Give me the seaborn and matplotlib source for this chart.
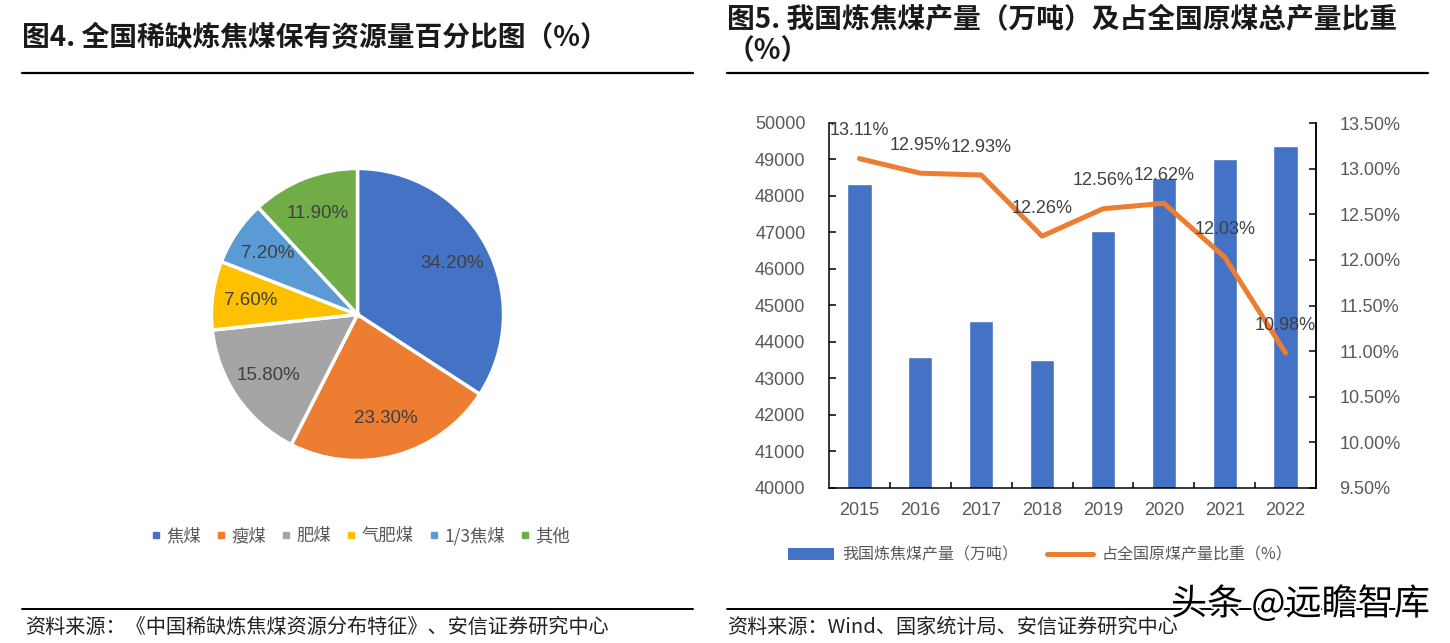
import numpy as np
import pandas as pd
import matplotlib
matplotlib.use("Agg")
import matplotlib.pyplot as plt
import seaborn as sns
from matplotlib.lines import Line2D
from matplotlib.patches import Patch
from matplotlib.ticker import FuncFormatter
import matplotlib.patheffects as pe

# ---------------- data ----------------
coal_types = ["焦煤", "瘦煤", "肥煤", "气肥煤", "1/3焦煤", "其他"]
coal_share = [34.2, 23.3, 15.8, 7.6, 7.2, 11.9]
pie_colors = ["#4472C4", "#ED7D31", "#A5A5A5", "#FFC000", "#5B9BD5", "#70AD47"]

years = ["2015", "2016", "2017", "2018", "2019", "2020", "2021", "2022"]
coking_output = [48330, 43590, 44575, 43505, 47040, 48495, 49015, 49370]
share_of_raw = [13.11, 12.95, 12.93, 12.26, 12.56, 12.62, 12.03, 10.98]
left_ticks = [40000, 41000, 42000, 43000, 44000, 45000, 46000, 47000, 48000, 49000, 50000]
right_ticks = [9.5, 10.0, 10.5, 11.0, 11.5, 12.0, 12.5, 13.0, 13.5]

title_left = "图4. 全国稀缺炼焦煤保有资源量百分比图（%）"
title_right = "图5. 我国炼焦煤产量（万吨）及占全国原煤总产量比重\n（%）"
source_left = "资料来源：《中国稀缺炼焦煤资源分布特征》、安信证券研究中心"
source_right = "资料来源：Wind、国家统计局、安信证券研究中心"
bar_label = "我国炼焦煤产量（万吨）"
line_label = "占全国原煤产量比重（%）"
watermark = "头条 @远瞻智库"

# ---------------- style ----------------
sns.set_theme(style="white")
plt.rcParams["font.family"] = ["Liberation Sans", "Noto Sans CJK SC"]
plt.rcParams["axes.unicode_minus"] = False
CJK = ["Noto Sans CJK SC", "Liberation Sans"]

W, H = 1450, 643
fig = plt.figure(figsize=(W / 100, H / 100), dpi=100)
fig.patch.set_facecolor("white")


def fx(px):
    return px / W


def fy(py):
    return 1 - py / H


# ---------------- titles and rules ----------------
fig.text(fx(22), fy(38), title_left, ha="left", va="center", fontsize=20,
         fontweight="bold", family=CJK, color="#1a1a1a")
fig.text(fx(727), fy(36), title_right, ha="left", va="center", fontsize=20,
         fontweight="bold", family=CJK, color="#1a1a1a", linespacing=1.15)

for (x0, x1) in [(22, 693), (727, 1428)]:
    fig.add_artist(Line2D([fx(x0), fx(x1)], [fy(73), fy(73)], transform=fig.transFigure,
                          color="black", linewidth=1.6))
    fig.add_artist(Line2D([fx(x0), fx(x1)], [fy(609), fy(609)], transform=fig.transFigure,
                          color="black", linewidth=1.4))

fig.text(fx(25), fy(627), source_left, ha="left", va="center", fontsize=14.5,
         family=CJK, color="#222222")
fig.text(fx(727), fy(627), source_right, ha="left", va="center", fontsize=14.5,
         family=CJK, color="#222222")

# ---------------- pie ----------------
axp = fig.add_axes([fx(210), fy(462), (505 - 210) / W, (462 - 167) / H])
wedges, _, autotexts = axp.pie(
    coal_share, colors=pie_colors, startangle=90, counterclock=False,
    autopct=lambda p: f"{p:.2f}%", pctdistance=0.74,
    wedgeprops=dict(edgecolor="white", linewidth=2.5),
    textprops=dict(fontsize=13.5, color="#404040"))
axp.set_xlim(-1.01, 1.01)
axp.set_ylim(-1.01, 1.01)
axp.set_aspect("equal")
axp.axis("off")

pie_handles = [Line2D([], [], marker="s", linestyle="none", markersize=4.5,
                      markerfacecolor=c, markeredgecolor=c) for c in pie_colors]
fig.legend(pie_handles, coal_types, loc="center", bbox_to_anchor=(fx(361), fy(536)),
           ncol=6, frameon=False, handlelength=0.5, handletextpad=0.35,
           columnspacing=0.9, prop=dict(family=CJK, size=12.5), labelcolor="#595959")

# ---------------- bar + line ----------------
ax = fig.add_axes([fx(829), fy(488), (1316 - 829) / W, (488 - 123) / H])
df = pd.DataFrame({"year": years, "output": coking_output})
sns.barplot(data=df, x="year", y="output", color="#4472C4", saturation=1, width=0.4, ax=ax)
ax.set_xlim(-0.5, len(years) - 0.5)
ax.set_ylim(left_ticks[0], left_ticks[-1])
ax.set_yticks(left_ticks)
ax.set_yticklabels([str(t) for t in left_ticks])
ax.set_xlabel("")
ax.set_ylabel("")
ax.set_xticks(np.arange(0.5, len(years) - 1, 1), minor=True)
ax.tick_params(axis="x", which="major", length=0, pad=10, labelsize=13, labelcolor="#595959")
ax.tick_params(axis="x", which="minor", direction="in", length=4, width=1.1, color="black", bottom=True)
ax.tick_params(axis="y", direction="in", length=5, width=1.1, color="black", pad=17,
               labelsize=13, labelcolor="#595959", left=True)
for s in ["left", "bottom", "right"]:
    ax.spines[s].set_visible(True)
    ax.spines[s].set_color("black")
    ax.spines[s].set_linewidth(1.1)
ax.spines["top"].set_visible(False)

ax2 = ax.twinx()
sns.lineplot(x=np.arange(len(years)), y=share_of_raw, ax=ax2, color="#ED7D31",
             linewidth=3.6, solid_capstyle="round", solid_joinstyle="round")
ax2.set_xlim(-0.5, len(years) - 0.5)
ax2.set_ylim(right_ticks[0], right_ticks[-1])
ax2.set_yticks(right_ticks)
ax2.yaxis.set_major_formatter(FuncFormatter(lambda v, p: f"{v:.2f}%"))
ax2.tick_params(axis="y", direction="in", length=5, width=1.1, color="black", pad=17,
                labelsize=13, labelcolor="#595959", right=True)
ax2.set_ylabel("")
for s in ["top", "left", "bottom"]:
    ax2.spines[s].set_visible(False)
ax2.spines["right"].set_visible(True)
ax2.spines["right"].set_color("black")
ax2.spines["right"].set_linewidth(1.1)

for i, r in enumerate(share_of_raw):
    ax2.annotate(f"{r:.2f}%", (i, r), xytext=(0, 20), textcoords="offset points",
                 ha="center", va="center", fontsize=13, color="#404040")

h_bar = Patch(facecolor="#4472C4", edgecolor="none")
h_line = Line2D([], [], color="#ED7D31", linewidth=3.6, solid_capstyle="round")
fig.legend([h_bar, h_line], [bar_label, line_label], loc="center",
           bbox_to_anchor=(fx(1040), fy(555)), ncol=2, frameon=False,
           handlelength=2.9, handletextpad=0.5, columnspacing=1.8,
           prop=dict(family=CJK, size=11.5), labelcolor="#595959")

# ---------------- watermark ----------------
fig.text(fx(1430), fy(604), watermark, ha="right", va="center", fontsize=26,
         family=CJK, color="black",
         path_effects=[pe.withStroke(linewidth=3, foreground="white")])

fig.savefig("out.png", dpi=100, facecolor="white")
